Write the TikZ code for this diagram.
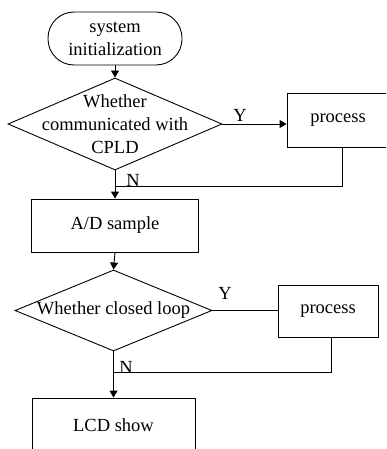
\documentclass[tikz,border=0pt]{standalone}
\usepackage{fontspec}
\setmainfont{Liberation Serif}
\usetikzlibrary{shapes.geometric,arrows.meta}
\begin{document}
\begin{tikzpicture}[x=1pt,y=-1pt,
  font=\fontsize{18.5}{23}\selectfont,
  line width=0.9pt,
  box/.style={draw, rectangle, inner sep=0pt, align=center},
  term/.style={draw, rectangle, rounded corners=26pt, inner sep=0pt, align=center},
  dia/.style={draw, diamond, inner sep=0pt},
  arr/.style={-{Triangle[length=7pt,width=8pt]}},
  lbl/.style={inner sep=0pt}]
\clip (0,0) rectangle (386,449);
% top part
\node[term, minimum width=134pt, minimum height=53pt] (s) at (115,38.5) {system\\initialization};
\node[dia, minimum width=214pt, minimum height=92pt] (d1) at (115,124) {};
\node[align=center, inner sep=0pt] (d1t) at (d1) {Whether\\communicated with\\CPLD};
\node[box, minimum width=102pt, minimum height=54pt] (p1) at (338,120) {process};
\node[box, minimum width=167pt, minimum height=53pt] (ad) at (115,225.5) {A/D sample};
\coordinate (j1) at (115,186);
\node[lbl] (y1) at (240,115) {Y};
\node[lbl] (n1) at (133,180) {N};
\draw[arr] (s.south) -- (d1.north);
\draw[arr] (d1.east) -- (d1.east -| p1.west);
\draw ([xshift=4pt]p1.south) |- (j1);
\draw[arr] (d1.south) -- (ad.north);
% bottom part
\node[dia, minimum width=197pt, minimum height=81pt] (d2) at (113.5,310.5) {};
\node[inner sep=0pt] (d2t) at (d2) {Whether closed loop};
\node[box, minimum width=100pt, minimum height=52pt] (p2) at (328,311) {process};
\node[box, minimum width=163pt, minimum height=54pt] (lcd) at (113.5,425) {LCD show};
\coordinate (j2) at (113.5,372);
\node[lbl] (y2) at (225,293) {Y};
\node[lbl] (n2) at (126,367) {N};
\draw[arr] (ad.south) -- (d2.north);
\draw (d2.east) -- (d2.east -| p2.west);
\draw ([xshift=3pt]p2.south) |- (j2);
\draw[arr] (d2.south) -- (lcd.north);
\end{tikzpicture}
\end{document}
